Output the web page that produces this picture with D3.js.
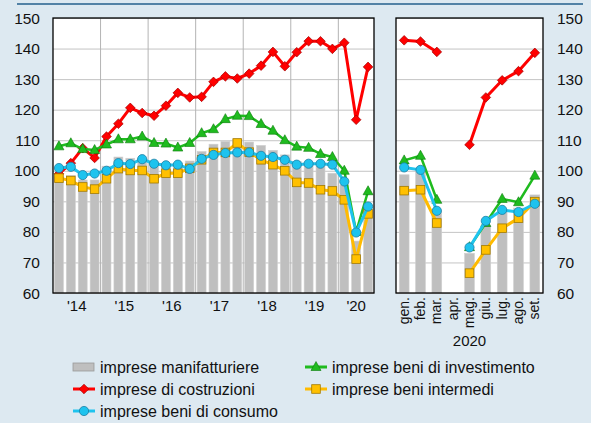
<!DOCTYPE html>
<html><head><meta charset="utf-8">
<script src="https://cdn.jsdelivr.net/npm/d3@7/dist/d3.min.js"></script>
<style>
html,body{margin:0;padding:0;background:#dde9f1;}
svg{display:block;font-family:"Liberation Sans",Arial,Helvetica,sans-serif;}
</style></head>
<body><svg id="c" width="591" height="423"></svg>
<script>
// ---------- DATA ----------
const quarters = ["2014T1","2014T2","2014T3","2014T4","2015T1","2015T2","2015T3","2015T4",
  "2016T1","2016T2","2016T3","2016T4","2017T1","2017T2","2017T3","2017T4",
  "2018T1","2018T2","2018T3","2018T4","2019T1","2019T2","2019T3","2019T4",
  "2020T1","2020T2","2020T3"];
const yearLabels = ["'14","'15","'16","'17","'18","'19","'20"];
const manifQ   = [98,98.5,97,97,101.5,104.5,104.1,104,102.5,102.3,102.5,103.2,106.3,108.7,109.6,110.4,109.4,108.3,106.7,105.2,103.1,102.3,101.4,99.2,95.4,77,87.2];
const costrQ   = [99,102.5,107.4,104.2,111.2,115.4,120.6,118.9,118.0,121.3,125.5,124.0,124.2,129.1,130.9,130.2,131.8,134.4,138.9,134.2,138.8,142.4,142.4,139.9,141.9,116.7,134.0];
const investQ  = [108.0,109.0,107.1,106.8,108.6,110.3,110.3,111.2,109.1,108.9,107.6,109.1,112.3,113.6,116.9,118.0,117.9,115.3,113.1,110.0,107.9,107.5,105.5,104.5,100.0,80.0,93.3];
const intermQ  = [97.6,96.8,94.7,94.0,97.4,100.7,100.1,100.1,97.4,99.2,99.2,100.8,103.6,106.0,106.0,109.1,106.1,103.6,102.0,100.0,96.2,96.0,93.8,93.4,90.5,71.1,85.9];
const consumoQ = [100.9,101.3,98.6,99.1,100.0,102.5,102.2,103.8,102.3,101.8,102.0,100.6,103.9,105.2,105.8,106.0,106.0,104.9,104.5,103.6,102.0,102.3,102.3,102.0,96.5,79.8,88.3];

const months   = ["gen.","feb.","mar.","apr.","mag.","giu.","lug.","ago.","set."];
const monthYear = "2020";
const manifM   = [98.7,99.4,87,null,73,82,86.5,87.8,92.1];
const costrM   = [142.7,142.3,138.9,null,108.5,124.0,129.6,132.6,138.6];
const investM  = [103.4,104.9,90.5,null,75,82.9,90.8,89.7,98.4];
const intermM  = [93.5,93.8,82.9,null,66.5,74.1,81.2,84.5,89.9];
const consumoM = [101.1,100.3,86.9,null,74.9,83.6,87.2,86.5,89.2];

const yTicks = [60,70,80,90,100,110,120,130,140,150];
const seriesNames = {
  manif:"imprese manifatturiere", costr:"imprese di costruzioni", consumo:"imprese beni di consumo",
  invest:"imprese beni di investimento", interm:"imprese beni intermedi"
};

// ---------- STYLES ----------
const C = {
  bar:"#bfbfbf", barEdge:"#cfcfcf",
  red:"#ff0000", redEdge:"#a00000",
  green:"#1fbb1f", greenEdge:"#0a7a0a",
  cyan:"#1ec3ee", cyanEdge:"#1e7fa3",
  orange:"#ffbb00", orangeFill:"#ffc000", orangeEdge:"#a37a00",
  grid:"#c4c4c4"
};

const svg = d3.select("#c");
const yTop = 18, yBot = 293;
const y = d3.scaleLinear().domain([60,150]).range([yBot, yTop]);

// top rule
svg.append("line").attr("x1",17).attr("x2",583).attr("y1",4).attr("y2",4)
  .attr("stroke","#235f8c").attr("stroke-width",1.5);

function markDiamond(g,x,yy){ g.append("path").attr("d",`M${x},${yy-4.8}L${x+4.8},${yy}L${x},${yy+4.8}L${x-4.8},${yy}Z`)
  .attr("fill",C.red).attr("stroke",C.redEdge).attr("stroke-width",0.7); }
function markTriangle(g,x,yy){ g.append("path").attr("d",`M${x},${yy-5.5}L${x+5},${yy+3.5}L${x-5},${yy+3.5}Z`)
  .attr("fill",C.green).attr("stroke",C.greenEdge).attr("stroke-width",0.6); }
function markSquare(g,x,yy){ g.append("rect").attr("x",x-4.3).attr("y",yy-4.3).attr("width",8.6).attr("height",8.6)
  .attr("fill",C.orangeFill).attr("stroke",C.orangeEdge).attr("stroke-width",0.8); }
function markCircle(g,x,yy){ g.append("circle").attr("cx",x).attr("cy",yy).attr("r",4.6)
  .attr("fill",C.cyan).attr("stroke",C.cyanEdge).attr("stroke-width",0.8); }

function panel(x0, x1, cats, bars, costr, invest, interm, consumo, vgrid, padIn){
  const x = d3.scaleBand().domain(cats).range([x0,x1]).paddingInner(padIn).paddingOuter(padIn/2);
  const g = svg.append("g");
  g.append("rect").attr("x",x0).attr("y",yTop).attr("width",x1-x0).attr("height",yBot-yTop).attr("fill","#fff");
  g.append("g").attr("transform",`translate(${x0},0)`)
    .call(d3.axisLeft(y).tickValues(yTicks).tickSize(-(x1-x0)).tickFormat(""))
    .call(s=>s.select(".domain").remove())
    .call(s=>s.selectAll("line").attr("stroke",C.grid).attr("stroke-width",1));
  if (vgrid) vgrid(g, x);
  g.selectAll("rect.bar").data(cats.map((c,i)=>({c,v:bars[i]})).filter(d=>d.v!=null))
    .join("rect").attr("class","bar")
    .attr("x",d=>x(d.c)).attr("width",x.bandwidth())
    .attr("y",d=>y(d.v)).attr("height",d=>yBot-y(d.v))
    .attr("fill",C.bar).attr("stroke",C.barEdge).attr("stroke-width",0.6);
  const cx = c => x(c)+x.bandwidth()/2;
  function series(vals, color, width, marker){
    const pts = cats.map((c,i)=>({c,v:vals[i]}));
    const line = d3.line().defined(d=>d.v!=null).x(d=>cx(d.c)).y(d=>y(d.v));
    g.append("path").datum(pts).attr("d",line).attr("fill","none")
      .attr("stroke",color).attr("stroke-width",width).attr("stroke-linejoin","round");
    pts.filter(d=>d.v!=null).forEach(d=>marker(g, cx(d.c), y(d.v)));
  }
  series(costr, C.red, 3, markDiamond);
  series(invest, C.green, 2.5, markTriangle);
  series(interm, C.orange, 3, markSquare);
  series(consumo, C.cyan, 3, markCircle);
  g.append("rect").attr("x",x0).attr("y",yTop).attr("width",x1-x0).attr("height",yBot-yTop)
    .attr("fill","none").attr("stroke","#000").attr("stroke-width",1.3);
  return x;
}

const xL = panel(53, 374, quarters, manifQ, costrQ, investQ, intermQ, consumoQ, (g,x)=>{
  const years = d3.range(1,7).map(k=>quarters[4*k]);
  g.selectAll("line.vg").data(years).join("line").attr("class","vg")
    .attr("x1",d=>x(d)-x.step()*x.paddingInner()/2).attr("x2",d=>x(d)-x.step()*x.paddingInner()/2)
    .attr("y1",yTop).attr("y2",yBot).attr("stroke","#b4b4b4").attr("stroke-width",1);
}, 0.25);
const xR = panel(396, 543, months, manifM, costrM, investM, intermM, consumoM, null, 0.4);

const ax = svg.append("g").attr("font-size",15.5).attr("fill","#111");
ax.selectAll("text.yl").data(yTicks).join("text").attr("class","yl")
  .attr("x",40).attr("y",d=>y(d)).attr("dy","0.36em").attr("text-anchor","end").text(d=>d);
ax.selectAll("text.yr").data(yTicks).join("text").attr("class","yr")
  .attr("x",557).attr("y",d=>y(d)).attr("dy","0.36em").attr("text-anchor","start").text(d=>d);

yearLabels.forEach((lab,k)=>{
  const qs = quarters.filter((q,i)=>Math.floor(i/4)===k);
  const first = xL(qs[0]) , last = xL(qs[qs.length-1]) + xL.bandwidth();
  ax.append("text").attr("x",(first+last)/2).attr("y",311).attr("text-anchor","middle")
    .attr("font-size",15).text(lab);
});
months.forEach(m=>{
  const cx = xR(m)+xR.bandwidth()/2;
  ax.append("text").attr("transform",`translate(${cx+4.5},297) rotate(-90)`)
    .attr("text-anchor","end").attr("font-size",14).text(m);
});
ax.append("text").attr("x",(396+543)/2).attr("y",346).attr("text-anchor","middle").attr("font-size",15).text(monthYear);

const lg = svg.append("g").attr("font-size",16).attr("fill","#111");
const items = [
  {k:"manif", x:73, y:367}, {k:"invest", x:305, y:367},
  {k:"costr", x:73, y:389}, {k:"interm", x:305, y:389},
  {k:"consumo", x:73, y:411}
];
items.forEach(it=>{
  const gx = it.x, gy = it.y;
  if (it.k==="manif"){
    lg.append("rect").attr("x",gx).attr("y",gy-4).attr("width",21).attr("height",8)
      .attr("fill",C.bar).attr("stroke","#9a9a9a").attr("stroke-width",0.8);
  } else {
    const col = {costr:C.red, invest:C.green, interm:C.orange, consumo:C.cyan}[it.k];
    lg.append("line").attr("x1",gx).attr("x2",gx+22).attr("y1",gy).attr("y2",gy)
      .attr("stroke",col).attr("stroke-width",3);
    ({costr:markDiamond, invest:markTriangle, interm:markSquare, consumo:markCircle})[it.k](lg, gx+11, gy);
  }
  lg.append("text").attr("x",gx+27).attr("y",gy).attr("dy","0.36em").text(seriesNames[it.k]);
});
</script></body></html>
